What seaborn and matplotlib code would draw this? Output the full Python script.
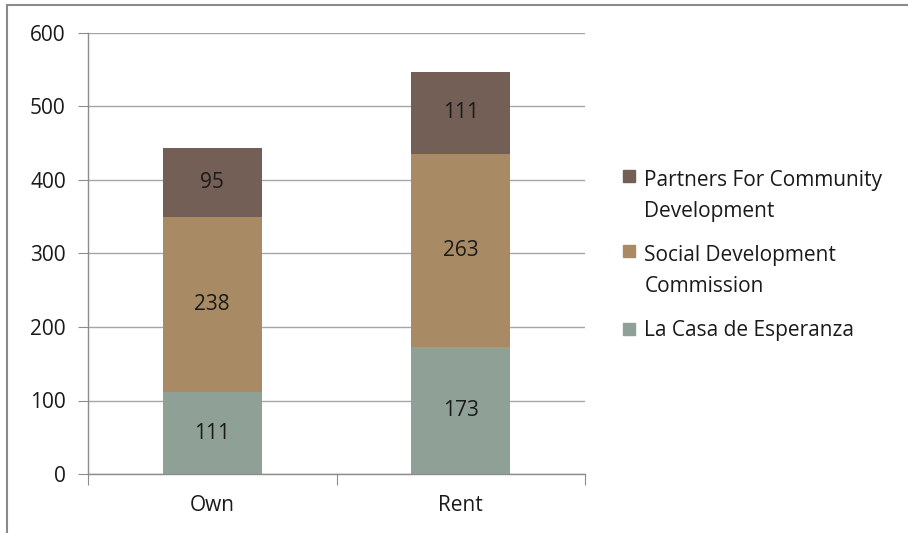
import pandas as pd
import matplotlib.pyplot as plt
import matplotlib.patches as mpatches
from matplotlib.legend_handler import HandlerPatch
import seaborn as sns

# data
tenure = ['Own', 'Rent']
agencies = ['La Casa de Esperanza', 'Social Development Commission', 'Partners For Community Development']
la_casa = [111, 173]
social_dev = [238, 263]
partners = [95, 111]
legend_labels = ['Partners For Community\nDevelopment', 'Social Development\nCommission', 'La Casa de Esperanza']
colors = {'La Casa de Esperanza': '#8FA097',
          'Social Development Commission': '#A88B64',
          'Partners For Community Development': '#735F55'}

FS = 15
LINESP = 1.6

sns.set_style('white')
plt.rcParams['font.family'] = ['Open Sans', 'DejaVu Sans']
plt.rcParams['font.size'] = FS

df = pd.DataFrame({'Tenure': tenure,
                   agencies[0]: la_casa,
                   agencies[1]: social_dev,
                   agencies[2]: partners})
long = df.melt(id_vars='Tenure', var_name='Agency', value_name='Count')
long['Agency'] = pd.Categorical(long['Agency'], categories=agencies, ordered=True)
long = long.sort_values(['Tenure', 'Agency'])
long['Top'] = long.groupby('Tenure')['Count'].cumsum()
long['Bottom'] = long['Top'] - long['Count']

fig = plt.figure(figsize=(9.08, 5.33), dpi=100)
ax = fig.add_axes([88 / 908, 1 - 474 / 533, (585 - 88) / 908, (474 - 33) / 533])

# stacked bars: draw cumulative totals from the top layer down
for agency in reversed(agencies):
    sub = long[long['Agency'] == agency]
    sns.barplot(data=sub, x='Tenure', y='Top', order=tenure, color=colors[agency],
                width=0.4, saturation=1, edgecolor='none', ax=ax, zorder=2)

for _, row in long.iterrows():
    xi = tenure.index(row['Tenure'])
    ax.text(xi, (row['Top'] + row['Bottom']) / 2, f"{row['Count']}",
            ha='center', va='center', fontsize=FS, color='#1a1a1a', zorder=3)

ax.set_ylim(0, 600)
ax.set_xlim(-0.5, 1.5)
ax.set_yticks(range(0, 601, 100))
ax.set_xlabel('')
ax.set_ylabel('')
ax.grid(axis='y', color='#A6A6A6', linewidth=1, zorder=0)
ax.set_axisbelow(True)
for side in ['top', 'right']:
    ax.spines[side].set_visible(False)
for side in ['left', 'bottom']:
    ax.spines[side].set_color('#8C8C8C')
    ax.spines[side].set_linewidth(1)

# category boundary ticks on x, short outward ticks on y
ax.set_xticks([-0.5, 0.5, 1.5], minor=False)
ax.set_xticklabels([])
ax.set_xticks([0, 1], minor=True)
ax.set_xticklabels(tenure, minor=True)
ax.tick_params(axis='x', which='major', length=8, color='#8C8C8C', direction='out')
ax.tick_params(axis='x', which='minor', length=0, pad=15, labelsize=FS, labelcolor='#1a1a1a')
ax.tick_params(axis='y', length=7, color='#8C8C8C', direction='out', pad=9,
               labelsize=FS, labelcolor='#1a1a1a')
ax.tick_params(axis='both', left=True, bottom=True)


# legend swatch sits on the first line of a wrapped label
def top_patch(legend, orig_handle, xdescent, ydescent, width, height, fontsize):
    nlines = getattr(orig_handle, 'nlines', 1)
    shift = (nlines - 1) * LINESP * fontsize * 0.62
    return mpatches.Rectangle((-xdescent, -ydescent + shift), width, height)


handles = []
for a, lab in zip(reversed(agencies), legend_labels):
    p = mpatches.Patch(color=colors[a])
    p.nlines = lab.count('\n') + 1
    handles.append(p)

leg = fig.legend(handles, legend_labels, loc='center left', bbox_to_anchor=(0.666, 0.52),
                 frameon=False, fontsize=FS, handlelength=0.55, handleheight=0.55,
                 handletextpad=0.45, labelspacing=1.12, labelcolor='#1a1a1a',
                 handler_map={mpatches.Patch: HandlerPatch(patch_func=top_patch)})
for t in leg.get_texts():
    t.set_linespacing(LINESP)

# outer chart frame (cropped at right and bottom)
fig.patches.append(mpatches.Rectangle((7 / 908, -0.1), 1.2, 1 - 5 / 533 + 0.1,
                                      transform=fig.transFigure, fill=False,
                                      edgecolor='#8A8A8A', linewidth=1.5))

fig.savefig('out.png', dpi=100)
